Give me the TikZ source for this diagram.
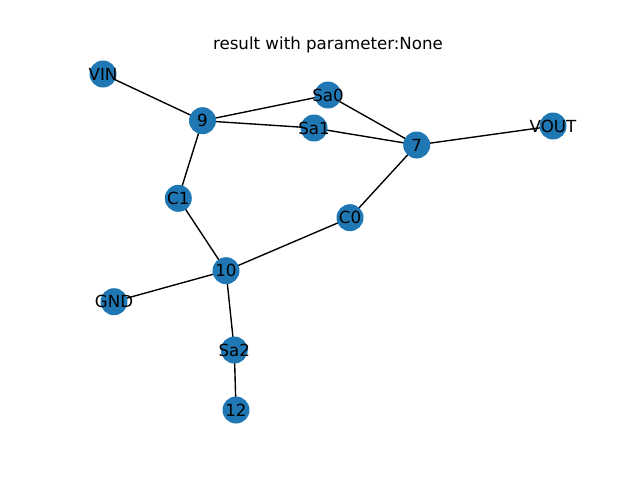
\documentclass[tikz,border=0pt]{standalone}
\usepackage{fontspec}
\setmainfont{DejaVu Sans}
\usetikzlibrary{backgrounds}
\definecolor{nodeblue}{HTML}{1F77B4}
\tikzset{
  vertex/.style={circle, fill=nodeblue, draw=none, inner sep=0pt, minimum size=20.25pt,
    label={[font=\fontsize{12.5}{14}\selectfont, inner sep=0pt, text=black]center:#1}},
  link/.style={draw=black, line width=1.04pt}
}
\begin{document}
\begin{tikzpicture}[x=0.75pt, y=-0.75pt]
  \useasboundingbox (0,0) rectangle (640,480);
  % title
  \node[font=\fontsize{12.5}{14}\selectfont, anchor=base] (title) at (328,49) {result with parameter:None};
  % vertices
  \node[vertex=VIN]  (VIN)  at (103,74) {};
  \node[vertex=9]    (n9)   at (202.5,120.7) {};
  \node[vertex=Sa0]  (Sa0)  at (328,95) {};
  \node[vertex=Sa1]  (Sa1)  at (314,128) {};
  \node[vertex=7]    (n7)   at (416.7,145) {};
  \node[vertex=VOUT] (VOUT) at (553,126) {};
  \node[vertex=C1]   (C1)   at (178.3,198.3) {};
  \node[vertex=C0]   (C0)   at (350,217.7) {};
  \node[vertex=10]   (n10)  at (226,270.7) {};
  \node[vertex=GND]  (GND)  at (114,301.7) {};
  \node[vertex=Sa2]  (Sa2)  at (234.3,350) {};
  \node[vertex=12]   (n12)  at (236,410) {};
  % edges, underneath the vertices
  \begin{pgfonlayer}{background}
    \path[link] (VIN.center) -- (n9.center);
    \path[link] (n9.center) -- (Sa0.center);
    \path[link] (n9.center) -- (Sa1.center);
    \path[link] (n9.center) -- (C1.center);
    \path[link] (Sa0.center) -- (n7.center);
    \path[link] (Sa1.center) -- (n7.center);
    \path[link] (n7.center) -- (VOUT.center);
    \path[link] (n7.center) -- (C0.center);
    \path[link] (C0.center) -- (n10.center);
    \path[link] (C1.center) -- (n10.center);
    \path[link] (n10.center) -- (GND.center);
    \path[link] (n10.center) -- (Sa2.center);
    \path[link] (Sa2.center) -- (n12.center);
  \end{pgfonlayer}
\end{tikzpicture}
\end{document}
